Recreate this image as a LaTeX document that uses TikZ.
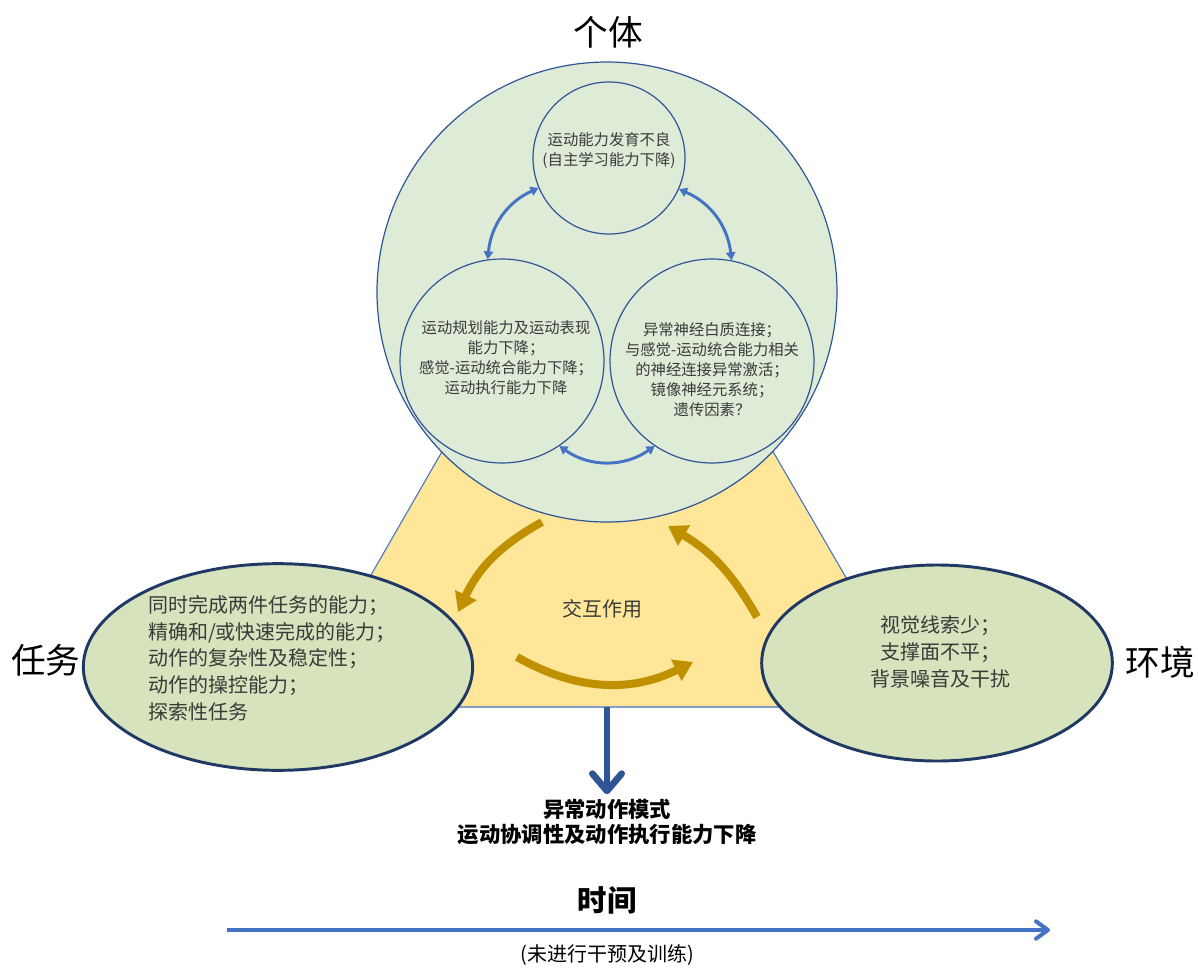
\documentclass[tikz,border=0pt]{standalone}
\usepackage{fontspec}
\setmainfont{Noto Sans CJK SC}
\usetikzlibrary{shapes.geometric,arrows.meta}

\definecolor{circfill}{HTML}{DEEBD7}
\definecolor{circline}{HTML}{2F5597}
\definecolor{ellfill}{HTML}{D6E3BC}
\definecolor{ellline}{HTML}{1F3864}
\definecolor{trifill}{HTML}{FFE699}
\definecolor{triline}{HTML}{4472C4}
\definecolor{linkblue}{HTML}{4472C4}
\definecolor{flowgold}{HTML}{BF9000}
\definecolor{outblue}{HTML}{2F5597}
\definecolor{txtgrey}{HTML}{3A3A3A}

\begin{document}
\begin{tikzpicture}[x=0.75pt,y=-0.75pt,
    bubble/.style={circle, draw=circline, line width=0.9pt, fill=circfill, inner sep=0pt},
    factor/.style={ellipse, draw=ellline, line width=2.2pt, fill=ellfill, inner sep=0pt},
    smalltxt/.style={text=txtgrey, align=center, font=\fontsize{11.5}{15}\selectfont},
    bigtxt/.style={text=txtgrey, font=\fontsize{15}{20}\selectfont},
    heading/.style={font=\fontsize{26}{30}\selectfont},
    linkarrow/.style={<->, >={Triangle[length=6pt,width=7pt]}, draw=linkblue, line width=2.2pt},
    flow/.style={->, >={Triangle[length=14pt,width=17pt]}, draw=flowgold, line width=6pt},
    outcome/.style={->, >={Straight Barb[length=13pt,width=22pt,round]}, draw=outblue, line width=5pt},
    timeline/.style={->, >={Straight Barb[length=9pt,width=13pt,round]}, draw=linkblue, line width=3pt}]

    \useasboundingbox (0,0) rectangle (1198,967);

    % interaction triangle (behind everything)
    \coordinate (apex) at (607,165);
    \coordinate (baseL) at (295,707);
    \coordinate (baseR) at (921,707);
    \coordinate (basemid) at (607,707);
    \filldraw[fill=trifill, draw=triline, line width=0.8pt] (apex) -- (baseL) -- (baseR) -- cycle;

    % individual
    \node[bubble, minimum size=345pt] (indiv) at (607,292) {};
    \node[bubble, minimum size=114pt] (dev) at (609,158) {};
    \node[bubble, minimum size=153pt] (motor) at (502,361) {};
    \node[bubble, minimum size=153pt] (neuro) at (712,361) {};

    \node[smalltxt] (devtxt) at (609,150) {运动能力发育不良\\(自主学习能力下降)};
    \node[smalltxt] (motortxt) at (506,358) {运动规划能力及运动表现\\能力下降；\\感觉-运动统合能力下降；\\运动执行能力下降};
    \node[smalltxt] (neurotxt) at (712,370) {异常神经白质连接；\\与感觉-运动统合能力相关\\的神经连接异常激活；\\镜像神经元系统；\\遗传因素？};

    % links between the three circles
    \draw[linkarrow] (motor.98) to[bend left=30] (dev.203);
    \draw[linkarrow] (dev.336) to[bend left=30] (neuro.79);
    \draw[linkarrow] (motor.304) to[bend right=35] (neuro.236);

    % task and environment
    \node[factor, minimum width=292pt, minimum height=155pt] (task) at (278,667) {};
    \node[factor, minimum width=263pt, minimum height=147pt] (env) at (937,663) {};

    \node[bigtxt, align=left] (tasktxt) at (272,658) {同时完成两件任务的能力；\\精确和/或快速完成的能力；\\动作的复杂性及稳定性；\\动作的操控能力；\\探索性任务};
    \node[bigtxt, align=center] (envtxt) at (940,652) {视觉线索少；\\支撑面不平；\\背景噪音及干扰};

    % interaction cycle
    \coordinate (fromIndiv) at (542,522);
    \coordinate (toTask) at (458,612);
    \coordinate (fromTask) at (517,657);
    \coordinate (toEnv) at (693,662);
    \coordinate (fromEnv) at (757,617);
    \coordinate (toIndiv) at (668,526);
    \draw[flow] (fromIndiv) to[bend right=18] (toTask);
    \draw[flow] (fromTask) to[bend right=28] (toEnv);
    \draw[flow] (fromEnv) to[bend right=15] (toIndiv);
    \node[bigtxt] (inter) at (602,609) {交互作用};

    % headings
    \node[heading] (hindiv) at (608,32) {个体};
    \node[heading] (htask) at (46,660) {任务};
    \node[heading] (henv) at (1160,662) {环境};

    % outcome
    \node[align=center, font=\fontsize{16}{19}\bfseries\selectfont] (result) at (607,822) {异常动作模式\\运动协调性及动作执行能力下降};
    \draw[outcome] (basemid) -- (result.north);

    % time
    \coordinate (tstart) at (227,930);
    \coordinate (tend) at (1050,930);
    \draw[timeline] (tstart) -- (tend);
    \node[font=\fontsize{22}{26}\bfseries\selectfont] (time) at (607,900) {时间};
    \node[font=\fontsize{15}{18}\selectfont] (notrain) at (607,955) {(未进行干预及训练)};

\end{tikzpicture}
\end{document}
